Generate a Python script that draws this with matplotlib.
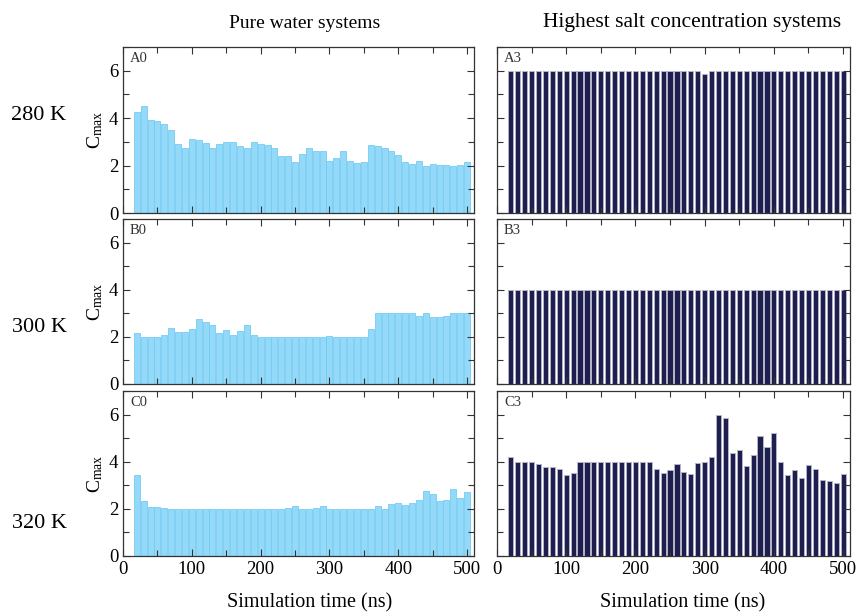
import matplotlib
matplotlib.use("Agg")
import matplotlib.pyplot as plt
from matplotlib.ticker import MultipleLocator

plt.rcParams.update({
    "font.family": ["Liberation Serif", "DejaVu Serif"],
    "mathtext.fontset": "custom",
    "mathtext.rm": "Liberation Serif",
    "mathtext.it": "Liberation Serif:italic",
    "axes.linewidth": 0.9,
    "axes.edgecolor": "#333333",
})

# simulation time of each sampled frame (ns)
times = [20, 30, 40, 50, 60, 70, 80, 90, 100, 110,
         120, 130, 140, 150, 160, 170, 180, 190, 200, 210,
         220, 230, 240, 250, 260, 270, 280, 290, 300, 310,
         320, 330, 340, 350, 360, 370, 380, 390, 400, 410,
         420, 430, 440, 450, 460, 470, 480, 490, 500]

# pure water, 280 / 300 / 320 K
cmax_A0 = [4.24, 4.53, 3.93, 3.89, 3.76, 3.49, 2.93, 2.73, 3.13, 3.07,
           2.97, 2.74, 2.89, 2.99, 2.99, 2.81, 2.74, 2.99, 2.93, 2.87,
           2.73, 2.41, 2.39, 2.13, 2.49, 2.76, 2.60, 2.61, 2.21, 2.31,
           2.61, 2.20, 2.10, 2.16, 2.87, 2.83, 2.73, 2.60, 2.43, 2.17,
           2.06, 2.20, 2.00, 2.06, 2.04, 2.03, 2.00, 2.04, 2.16]
cmax_B0 = [2.17, 2.00, 2.00, 2.00, 2.10, 2.36, 2.19, 2.19, 2.33, 2.74,
           2.63, 2.49, 2.16, 2.27, 2.06, 2.26, 2.49, 2.06, 2.00, 2.00,
           2.00, 2.00, 2.00, 2.00, 2.00, 2.00, 2.00, 2.00, 2.04, 2.00,
           2.00, 2.00, 2.00, 2.00, 2.33, 3.00, 3.00, 3.00, 3.00, 3.00,
           3.00, 2.89, 3.00, 2.83, 2.86, 2.90, 3.00, 3.00, 3.00]
cmax_C0 = [3.43, 2.34, 2.06, 2.06, 2.04, 2.01, 2.00, 2.00, 2.00, 2.00,
           2.00, 2.00, 2.00, 2.00, 2.00, 2.00, 2.00, 2.00, 2.00, 2.00,
           2.00, 2.00, 2.04, 2.13, 2.00, 2.00, 2.04, 2.14, 2.00, 2.00,
           2.00, 2.00, 2.00, 2.00, 2.00, 2.11, 2.00, 2.20, 2.23, 2.17,
           2.23, 2.39, 2.76, 2.64, 2.33, 2.37, 2.83, 2.44, 2.73]

# highest salt concentration, 280 / 300 / 320 K
cmax_A3 = [6.00, 6.00, 6.00, 6.00, 6.00, 6.00, 6.00, 6.00, 6.00, 6.00,
           6.00, 6.00, 6.00, 6.00, 6.00, 6.00, 6.00, 6.00, 6.00, 6.00,
           6.00, 6.00, 6.00, 6.00, 6.00, 6.00, 6.00, 6.00, 5.86, 6.00,
           6.00, 6.00, 6.00, 6.00, 6.00, 6.00, 6.00, 6.00, 6.00, 6.00,
           6.00, 6.00, 6.00, 6.00, 6.00, 6.00, 6.00, 6.00, 6.00]
cmax_B3 = [4.00, 4.00, 4.00, 4.00, 4.00, 4.00, 4.00, 4.00, 4.00, 4.00,
           4.00, 4.00, 4.00, 4.00, 4.00, 4.00, 4.00, 4.00, 4.00, 4.00,
           4.00, 4.00, 4.00, 4.00, 4.00, 4.00, 4.00, 4.00, 4.00, 4.00,
           4.00, 4.00, 4.00, 4.00, 4.00, 4.00, 4.00, 4.00, 4.00, 4.00,
           4.00, 4.00, 4.00, 4.00, 4.00, 4.00, 4.00, 4.00, 4.00]
cmax_C3 = [4.19, 4.00, 4.00, 4.00, 3.90, 3.77, 3.79, 3.70, 3.43, 3.53,
           4.00, 4.00, 4.00, 4.00, 4.00, 4.00, 4.00, 4.00, 4.00, 4.00,
           3.97, 3.70, 3.54, 3.64, 3.90, 3.57, 3.50, 3.94, 4.00, 4.19,
           5.97, 5.84, 4.37, 4.51, 3.81, 4.27, 5.07, 4.63, 5.20, 4.00,
           3.43, 3.63, 3.29, 3.84, 3.69, 3.24, 3.17, 3.11, 3.47]

panel_tags = [["A0", "A3"], ["B0", "B3"], ["C0", "C3"]]
panel_data = [[cmax_A0, cmax_A3], [cmax_B0, cmax_B3], [cmax_C0, cmax_C3]]
row_labels = ["280 K", "300 K", "320 K"]
col_titles = ["Pure water systems", "Highest salt concentration systems"]

W, H = 860, 616
fig = plt.figure(figsize=(W / 100, H / 100), dpi=100)

# axes boxes in pixels: (left, right) per column, (top, bottom) per row
col_px = [(123, 474), (497, 850)]
row_px = [(47, 213), (219, 384), (391, 556)]
row_label_y = [115, 328, 523]
title_x = [305, 692]
title_size = [14, 15.5]
xlabel_x = [310, 683]

styles = [
    dict(width=8.8, color="#95D9F8", edgecolor="#72CCF4", linewidth=0.6),
    dict(width=7.4, color="#1F1F4F", edgecolor="#B4B4C8", linewidth=0.7),
]

for r in range(3):
    for c in range(2):
        x0, x1 = col_px[c]
        t, b = row_px[r]
        ax = fig.add_axes([x0 / W, 1 - b / H, (x1 - x0) / W, (b - t) / H])
        ax.bar(times, panel_data[r][c], **styles[c])
        ax.set_xlim(0, 510)
        ax.set_ylim(0, 7)
        ax.xaxis.set_major_locator(MultipleLocator(100))
        ax.xaxis.set_minor_locator(MultipleLocator(50))
        ax.yaxis.set_major_locator(MultipleLocator(2))
        ax.yaxis.set_minor_locator(MultipleLocator(1))
        ax.tick_params(which="both", direction="in", top=True, right=True,
                       color="#333333", labelsize=13.5, width=0.8)
        ax.tick_params(which="major", length=5)
        ax.tick_params(which="minor", length=4)
        if r < 2:
            ax.tick_params(labelbottom=False)
        if c == 1:
            ax.tick_params(labelleft=False)
        else:
            ax.set_ylabel(r"C$_{\rm max}$", fontsize=14, labelpad=3)
        ax.text(0.02, 0.97, panel_tags[r][c], transform=ax.transAxes,
                ha="left", va="top", fontsize=10.5, color="#333333")

for c, title in enumerate(col_titles):
    fig.text(title_x[c] / W, 1 - 23 / H, title, ha="center", va="center",
             fontsize=title_size[c])
    fig.text(xlabel_x[c] / W, 1 - 603 / H, "Simulation time (ns)",
             ha="center", va="center", fontsize=14.5)

for r, lab in enumerate(row_labels):
    fig.text(39 / W, 1 - row_label_y[r] / H, lab, ha="center", va="center",
             fontsize=16)

fig.savefig("out.png", dpi=100)
